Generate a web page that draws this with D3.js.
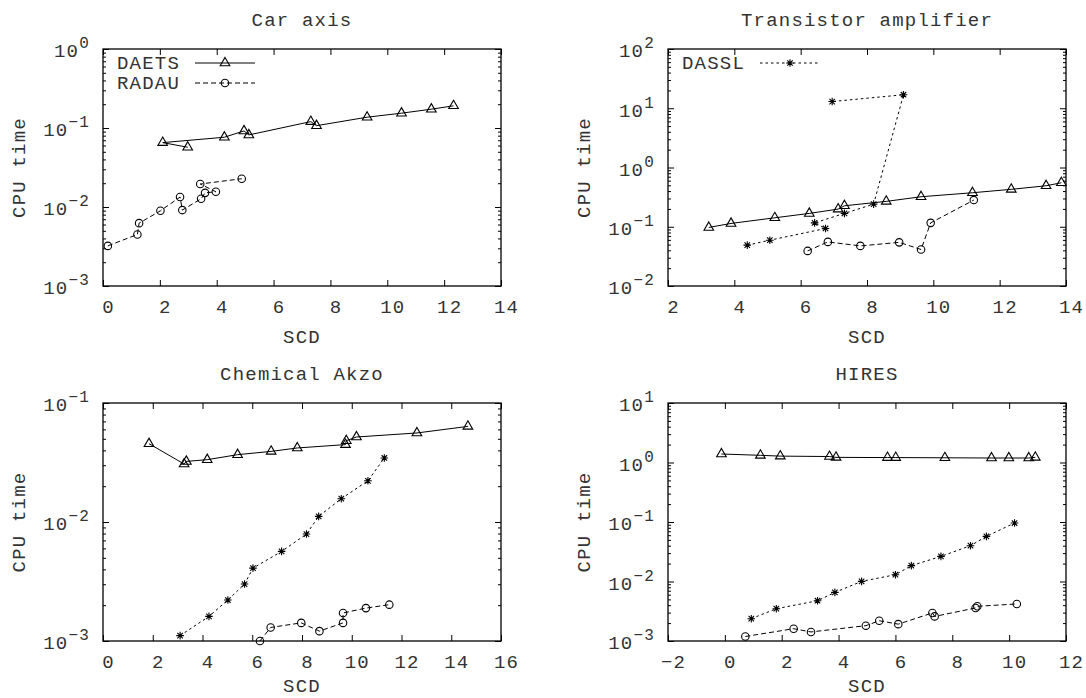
<!DOCTYPE html>
<html>
<head>
<meta charset="utf-8">
<script src="https://cdn.jsdelivr.net/npm/d3@7"></script>
<style>
  body { margin: 0; background: #fff; }
  text { font-family: "Liberation Mono", "Courier New", monospace; fill: #333; }
</style>
</head>
<body>
<svg id="chart" width="1086" height="698"></svg>
<script>
// panel settings
const titles = ['Car axis', 'Transistor amplifier', 'Chemical Akzo', 'HIRES']
const xDomains = [[0, 14], [2, 14], [0, 16], [-2, 12]]
const yDecades = [[-3, 0], [-2, 2], [-3, -1], [-3, 1]]

// Car axis
const carDaetsScd = [2.98, 2.10, 4.27, 4.96, 5.13, 7.31, 7.51, 9.29, 10.50, 11.55, 12.33]
const carDaetsCpu = [0.0571, 0.0653, 0.0764, 0.0918, 0.0817, 0.1205, 0.107, 0.137, 0.154, 0.173, 0.191]
const carRadauScd = [0.17, 1.21, 1.27, 2.02, 2.71, 2.79, 3.45, 3.59, 3.97, 3.42, 4.88]
const carRadauCpu = [0.00322, 0.00449, 0.00625, 0.00895, 0.01336, 0.00914, 0.0127, 0.0151, 0.0156, 0.01954, 0.0228]

// Transistor amplifier
const trDaetsScd = [3.23, 3.90, 5.22, 6.26, 7.13, 7.32, 8.58, 9.63, 11.18, 12.35, 13.40, 13.86]
const trDaetsCpu = [0.0973, 0.1138, 0.1416, 0.168, 0.1985, 0.226, 0.268, 0.321, 0.375, 0.428, 0.492, 0.553]
const trRadauScd = [6.21, 6.82, 7.80, 8.97, 9.63, 9.92, 11.22]
const trRadauCpu = [0.0391, 0.0555, 0.0475, 0.0545, 0.0413, 0.1164, 0.282]
const trDasslScd = [4.39, 5.07, 6.75, 6.42, 7.32, 8.20, 9.10, 6.95]
const trDasslCpu = [0.0489, 0.0593, 0.0935, 0.1164, 0.168, 0.241, 16.9, 12.98]

// Chemical Akzo
const akDaetsScd = [1.85, 3.26, 3.35, 4.19, 5.41, 6.76, 7.81, 9.75, 9.78, 10.19, 12.62, 14.67]
const akDaetsCpu = [0.0455, 0.0307, 0.0323, 0.0334, 0.0368, 0.0392, 0.0419, 0.0447, 0.0482, 0.0518, 0.056, 0.0636]
const akRadauScd = [6.31, 6.74, 7.97, 8.70, 9.65, 9.65, 10.57, 11.51]
const akRadauCpu = [0.00100, 0.0013, 0.00142, 0.00121, 0.00142, 0.00172, 0.00189, 0.00202]
const akDasslScd = [3.10, 4.26, 5.02, 5.69, 6.03, 7.18, 8.18, 8.67, 9.58, 10.65, 11.31]
const akDasslCpu = [0.00111, 0.00161, 0.00221, 0.00301, 0.0041, 0.00566, 0.00792, 0.01115, 0.0157, 0.0222, 0.0345]

// HIRES
const hiDaetsScd = [-0.12, 1.25, 1.95, 3.68, 3.91, 5.72, 6.01, 7.74, 9.38, 9.99, 10.69, 10.92]
const hiDaetsCpu = [1.39, 1.32, 1.28, 1.26, 1.22, 1.21, 1.21, 1.20, 1.19, 1.19, 1.19, 1.22]
const hiRadauScd = [0.72, 2.42, 3.03, 4.96, 5.43, 6.10, 7.30, 7.38, 8.82, 8.88, 10.27]
const hiRadauCpu = [0.00119, 0.00161, 0.00142, 0.00181, 0.00219, 0.00192, 0.00296, 0.00259, 0.00359, 0.00383, 0.00419]
const hiDasslScd = [0.93, 1.81, 3.26, 3.87, 4.81, 6.00, 6.56, 7.60, 8.64, 9.20, 10.19]
const hiDasslCpu = [0.00237, 0.00349, 0.00475, 0.00656, 0.01005, 0.0130, 0.01845, 0.0264, 0.040, 0.0573, 0.0962]

const zip = (xs, ys) => xs.map((x, i) => ({x, y: ys[i]}))

const seriesByPanel = [
  [
    {name: 'DAETS', points: zip(carDaetsScd, carDaetsCpu)},
    {name: 'RADAU', points: zip(carRadauScd, carRadauCpu)}
  ],
  [
    {name: 'DAETS', points: zip(trDaetsScd, trDaetsCpu)},
    {name: 'RADAU', points: zip(trRadauScd, trRadauCpu)},
    {name: 'DASSL', points: zip(trDasslScd, trDasslCpu)}
  ],
  [
    {name: 'DAETS', points: zip(akDaetsScd, akDaetsCpu)},
    {name: 'RADAU', points: zip(akRadauScd, akRadauCpu)},
    {name: 'DASSL', points: zip(akDasslScd, akDasslCpu)}
  ],
  [
    {name: 'DAETS', points: zip(hiDaetsScd, hiDaetsCpu)},
    {name: 'RADAU', points: zip(hiRadauScd, hiRadauCpu)},
    {name: 'DASSL', points: zip(hiDasslScd, hiDasslCpu)}
  ]
]

// which legend entries sit in which panel
const legendByPanel = [['DAETS', 'RADAU'], ['DASSL'], [], []]

// line / marker style per solver
const styles = {
  DAETS: {dash: null, marker: 'triangle'},
  RADAU: {dash: '5,3', marker: 'circle'},
  DASSL: {dash: '2.5,3', marker: 'star'}
}

// frames of the four plots
const cols = [{x0: 103, x1: 501}, {x0: 668, x1: 1066}]
const rows = [{y0: 49, y1: 286}, {y0: 403, y1: 641}]

const fontSize = 19
const spacing = 1.2

const svg = d3.select('#chart')

function markerPath(type) {
  if (type === 'triangle') return d3.symbol(d3.symbolTriangle, 40)()
  if (type === 'circle') return d3.symbol(d3.symbolCircle, 44)()
  // 8-armed asterisk like gnuplot point type 3
  const r = 3.8, d = r * 0.72
  return `M${-r},0L${r},0M0,${-r}L0,${r}M${-d},${-d}L${d},${d}M${-d},${d}L${d},${-d}`
}

function drawMarkers(g, points, x, y, type) {
  g.selectAll(null)
    .data(points)
    .join('path')
    .attr('transform', d => `translate(${x(d.x)},${y(d.y)})`)
    .attr('d', markerPath(type))
    .attr('fill', 'none')
    .attr('stroke', '#000')
    .attr('stroke-width', 1.1)
}

titles.forEach((title, p) => {
  const {x0, x1} = cols[p % 2]
  const {y0, y1} = rows[Math.floor(p / 2)]
  const [e0, e1] = yDecades[p]

  const x = d3.scaleLinear().domain(xDomains[p]).range([x0, x1])
  const y = d3.scaleLog().domain([10 ** e0, 10 ** e1]).range([y1, y0])

  const xTicks = d3.range(xDomains[p][0], xDomains[p][1] + 0.01, 2)
  const majors = d3.range(e0, e1 + 1).map(e => 10 ** e)
  const minors = []
  d3.range(e0, e1).forEach(e => d3.range(2, 10).forEach(m => minors.push(m * 10 ** e)))

  const g = svg.append('g')

  // bottom axis with labels
  const xAxis = g.append('g')
    .attr('transform', `translate(0,${y1})`)
    .call(d3.axisBottom(x).tickValues(xTicks).tickSizeInner(-6).tickSizeOuter(0).tickPadding(14)
      .tickFormat(d => d < 0 ? '\u2212' + Math.abs(d) : d))
  xAxis.select('.domain').remove()
  xAxis.selectAll('text')
    .attr('dx', 5)
    .attr('font-size', fontSize)
    .attr('letter-spacing', spacing)
    .attr('font-family', null)

  // mirrored ticks on top
  g.append('g')
    .attr('transform', `translate(0,${y0})`)
    .call(d3.axisTop(x).tickValues(xTicks).tickSizeInner(-6).tickSizeOuter(0).tickFormat(''))
    .call(a => a.select('.domain').remove())

  // left axis, decades with 10^n labels
  const yAxis = g.append('g')
    .attr('transform', `translate(${x0},0)`)
    .call(d3.axisLeft(y).tickValues(majors).tickSizeInner(-6).tickSizeOuter(0).tickPadding(13).tickFormat(''))
  yAxis.select('.domain').remove()
  yAxis.selectAll('.tick text')
    .attr('dy', '0.42em')
    .attr('font-size', fontSize)
    .attr('letter-spacing', spacing)
    .attr('font-family', null)
    .each(function (d) {
      const t = d3.select(this)
      t.append('tspan').text('10')
      t.append('tspan')
        .attr('dy', -9)
        .attr('font-size', 16)
        .text(String(Math.round(Math.log10(d))).replace('-', '\u2212'))
    })

  // minor log ticks on the left
  g.append('g')
    .attr('transform', `translate(${x0},0)`)
    .call(d3.axisLeft(y).tickValues(minors).tickSizeInner(-3).tickSizeOuter(0).tickFormat(''))
    .call(a => a.select('.domain').remove())

  // mirrored ticks on the right
  g.append('g')
    .attr('transform', `translate(${x1},0)`)
    .call(d3.axisRight(y).tickValues(majors).tickSizeInner(-6).tickSizeOuter(0).tickFormat(''))
    .call(a => a.select('.domain').remove())
  g.append('g')
    .attr('transform', `translate(${x1},0)`)
    .call(d3.axisRight(y).tickValues(minors).tickSizeInner(-3).tickSizeOuter(0).tickFormat(''))
    .call(a => a.select('.domain').remove())

  g.selectAll('.tick line').attr('stroke', '#000')

  // plot frame
  g.append('rect')
    .attr('x', x0).attr('y', y0)
    .attr('width', x1 - x0).attr('height', y1 - y0)
    .attr('fill', 'none')
    .attr('stroke', '#000')
    .attr('stroke-width', 1.3)

  // titles and axis labels
  g.append('text')
    .attr('x', (x0 + x1) / 2)
    .attr('y', y0 - 23)
    .attr('text-anchor', 'middle')
    .attr('font-size', fontSize)
    .attr('letter-spacing', spacing)
    .text(title)

  // the lower row has little room under the axis, keep the label inside the page
  g.append('text')
    .attr('x', (x0 + x1) / 2)
    .attr('y', Math.min(y1 + 57, 692))
    .attr('text-anchor', 'middle')
    .attr('font-size', fontSize)
    .attr('letter-spacing', spacing)
    .text('SCD')

  g.append('text')
    .attr('transform', `translate(${x0 - 78},${(y0 + y1) / 2}) rotate(-90)`)
    .attr('text-anchor', 'middle')
    .attr('font-size', fontSize)
    .attr('letter-spacing', spacing)
    .text('CPU time')

  // series: line first, markers on top
  const line = d3.line().x(d => x(d.x)).y(d => y(d.y))
  seriesByPanel[p].forEach(s => {
    const st = styles[s.name]
    g.append('path')
      .datum(s.points)
      .attr('d', line)
      .attr('fill', 'none')
      .attr('stroke', '#000')
      .attr('stroke-width', 1)
      .attr('stroke-dasharray', st.dash)
    drawMarkers(g.append('g'), s.points, x, y, st.marker)
  })

  // legend
  legendByPanel[p].forEach((name, i) => {
    const st = styles[name]
    const ly = y0 + 14 + i * 20
    g.append('text')
      .attr('x', x0 + 14)
      .attr('y', ly + 6)
      .attr('font-size', fontSize)
      .attr('letter-spacing', spacing)
      .text(name)
    g.append('line')
      .attr('x1', x0 + 92).attr('x2', x0 + 152)
      .attr('y1', ly).attr('y2', ly)
      .attr('stroke', '#000')
      .attr('stroke-width', 1)
      .attr('stroke-dasharray', st.dash)
    g.append('path')
      .attr('transform', `translate(${x0 + 122},${ly})`)
      .attr('d', markerPath(st.marker))
      .attr('fill', 'none')
      .attr('stroke', '#000')
      .attr('stroke-width', 1.1)
  })
})
</script>
</body>
</html>
